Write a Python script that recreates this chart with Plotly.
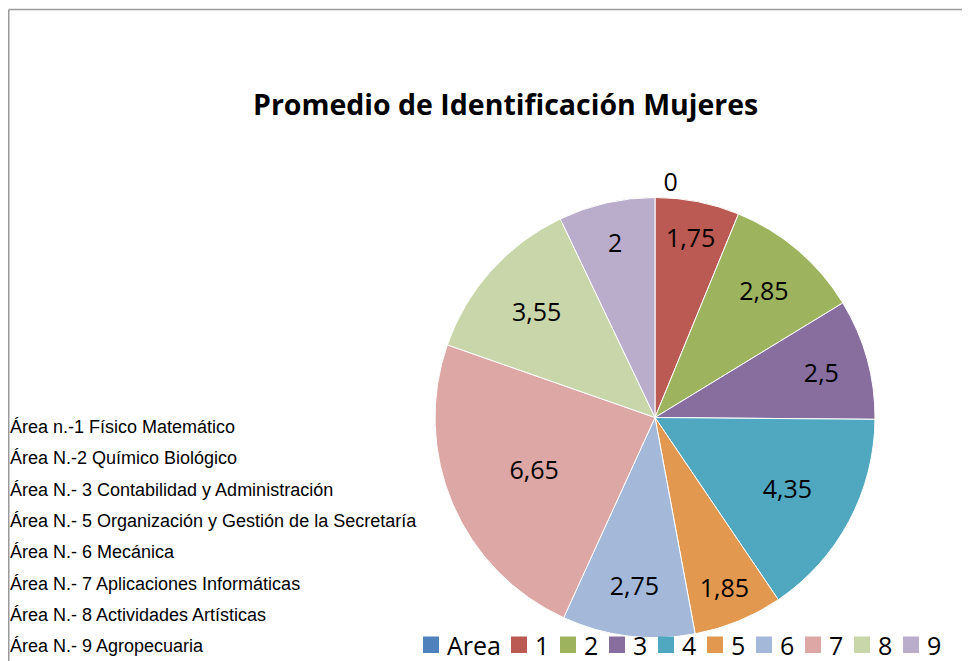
import plotly.graph_objects as go

categories = ["Area", "1", "2", "3", "4", "5", "6", "7", "8", "9"]
values = [0, 1.75, 2.85, 2.5, 4.35, 1.85, 2.75, 6.65, 3.55, 2]
colors = ["#4F81BD", "#BA5A52", "#9DB35E", "#876E9F", "#50A8C0",
          "#E3984F", "#A4B8D9", "#DCA7A4", "#C8D6AA", "#BAADCB"]
area_notes = [
    "Área n.-1 Físico Matemático",
    "Área N.-2 Químico Biológico",
    "Área N.- 3 Contabilidad y Administración",
    "Área N.- 5 Organización y Gestión de la Secretaría",
    "Área N.- 6 Mecánica",
    "Área N.- 7 Aplicaciones Informáticas",
    "Área N.- 8 Actividades Artísticas",
    "Área N.- 9 Agropecuaria",
]
title_text = "Promedio de Identificación Mujeres"

# page body has an 8px margin: figure is sized so it fits the window exactly
OFF = 8
W, H = 970 - OFF, 661 - OFF


def px(x):
    return (x - OFF) / W


def py(y):
    return 1 - (y - OFF) / H


labels_text = [("%g" % v).replace(".", ",") for v in values]
positions = ["outside" if v == 0 else "inside" for v in values]

fig = go.Figure(go.Pie(
    labels=categories,
    values=values,
    text=labels_text,
    texttemplate="%{text}",
    textposition=positions,
    insidetextorientation="horizontal",
    sort=False,
    direction="clockwise",
    rotation=0,
    marker=dict(colors=colors, line=dict(color="white", width=1)),
    textfont=dict(family="Open Sans", size=25, color="black"),
    domain=dict(x=[px(435), px(875)], y=[py(638), py(197)]),
    showlegend=False,
    hoverinfo="label+value",
))

annotations = [
    dict(text=title_text, x=px(505), y=py(104), xref="paper", yref="paper",
         showarrow=False, xanchor="center", yanchor="middle",
         font=dict(family="Open Sans", size=28.5, color="black", weight="bold")),
]
for i, t in enumerate(area_notes):
    annotations.append(dict(
        text=t, x=px(8), y=py(427 + i * 31.3), xref="paper", yref="paper",
        showarrow=False, xanchor="left", yanchor="middle",
        font=dict(family="Liberation Sans", size=18, color="black")))

shapes = [
    dict(type="line", xref="paper", yref="paper", x0=px(8.75), x1=1, y0=py(9.5), y1=py(9.5),
         line=dict(color="#9A9A9A", width=1.5)),
    dict(type="line", xref="paper", yref="paper", x0=px(8.75), x1=px(8.75), y0=0, y1=py(9.5),
         line=dict(color="#9A9A9A", width=1.5)),
]
# Legend drawn as swatches + labels along the bottom (Excel style)
lx = 423.0
for cat, col in zip(categories, colors):
    shapes.append(dict(type="rect", xref="paper", yref="paper",
                       x0=px(lx), x1=px(lx + 16), y0=py(653), y1=py(636.5),
                       fillcolor=col, line=dict(width=0)))
    annotations.append(dict(text=cat, x=px(lx + 22), y=py(645), xref="paper", yref="paper",
                            showarrow=False, xanchor="left", yanchor="middle",
                            font=dict(family="Open Sans", size=25, color="black")))
    lx += 36 + 13 * len(cat)

fig.update_layout(
    width=W, height=H,
    margin=dict(l=0, r=0, t=0, b=0),
    paper_bgcolor="white",
    plot_bgcolor="white",
    annotations=annotations,
    shapes=shapes,
)

fig.write_html("out.html")
